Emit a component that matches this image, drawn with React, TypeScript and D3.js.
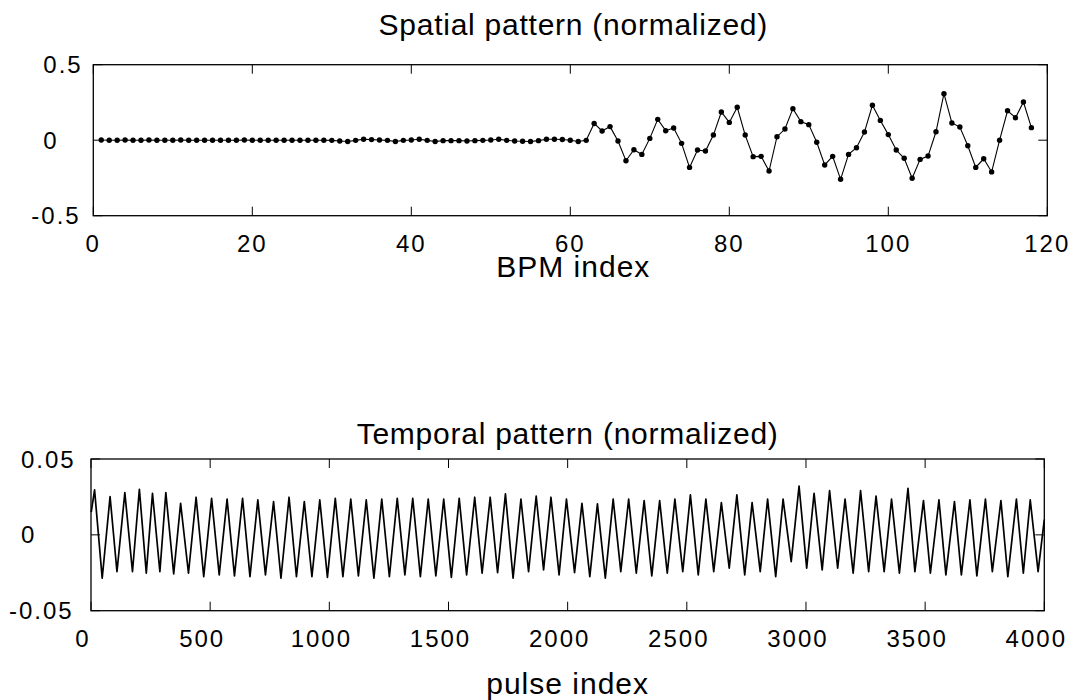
import React from "react";
import * as d3 from "d3";

// ---------- Data ----------
// Spatial pattern: BPM index 1..118
const spatialValues: number[] = [
  0.001, 0.0, 0.0, 0.001, 0.0, 0.0, 0.001, 0.0, 0.0, 0.0,
  0.001, 0.0, 0.0, 0.0, 0.0, 0.0, 0.0, 0.0, 0.001, 0.0,
  0.0, 0.0, 0.0, 0.0, 0.0, 0.0, 0.0, 0.0, 0.0, -0.001,
  -0.005, -0.009, -0.001, 0.006, 0.004, 0.001, -0.001, -0.009, -0.001, 0.001,
  0.006, -0.001, -0.009, -0.003, -0.003, -0.003, -0.005, -0.003, -0.001, 0.001,
  0.006, -0.001, -0.005, -0.007, -0.009, -0.003, 0.006, 0.006, 0.005, 0.0,
  -0.009, -0.001,
  0.111, 0.061, 0.09, -0.005, -0.136, -0.063, -0.094, 0.012, 0.138, 0.063,
  0.081, -0.021, -0.18, -0.065, -0.072, 0.034, 0.187, 0.118, 0.218, 0.034,
  -0.109, -0.107, -0.204, 0.023, 0.074, 0.209, 0.123, 0.103, -0.014, -0.164,
  -0.107, -0.259, -0.094, -0.05, 0.054, 0.231, 0.131, 0.037, -0.065, -0.12,
  -0.252, -0.127, -0.105, 0.056, 0.308, 0.114, 0.087, -0.037, -0.18, -0.123,
  -0.21, 0.0, 0.195, 0.149, 0.253, 0.083,
];

// Temporal pattern: extrema (sample index, value)
const temporalStart: [number, number] = [1, 0.015];
const temporalEnd: [number, number] = [4000, 0.01];
const peakSamples: number[] = [
  15, 80, 142, 203, 258, 314, 376, 441, 506, 571,
  636, 700, 766, 831, 895, 960, 1025, 1090, 1155, 1220,
  1285, 1350, 1415, 1480, 1545, 1610, 1675, 1739, 1804, 1868,
  1930, 1995, 2060, 2125, 2191, 2256, 2321, 2386, 2450, 2515,
  2580, 2645, 2710, 2774, 2839, 2904, 2971, 3034, 3099, 3164,
  3229, 3294, 3359, 3428, 3493, 3558, 3623, 3688, 3753, 3818,
  3883, 3941,
];
const peakValues: number[] = [
  0.0296, 0.0252, 0.0278, 0.03, 0.0274, 0.0278, 0.0208, 0.0248, 0.0241, 0.0235,
  0.0241, 0.023, 0.0219, 0.0248, 0.0219, 0.023, 0.0241, 0.0235, 0.023, 0.0235,
  0.0241, 0.0241, 0.0235, 0.0235, 0.0241, 0.0248, 0.0248, 0.027, 0.0235, 0.0256,
  0.0248, 0.0235, 0.0208, 0.0204, 0.0235, 0.0235, 0.0226, 0.0226, 0.0235, 0.0263,
  0.0235, 0.0212, 0.0263, 0.0212, 0.0235, 0.0235, 0.0322, 0.0274, 0.0291, 0.0235,
  0.0291, 0.0256, 0.0235, 0.0307, 0.0226, 0.023, 0.0219, 0.023, 0.0235, 0.0226,
  0.0235, 0.023,
];
const troughSamples: number[] = [
  47, 109, 174, 232, 289, 347, 409, 473, 538, 602,
  667, 732, 797, 862, 927, 992, 1057, 1122, 1187, 1252,
  1317, 1382, 1447, 1512, 1576, 1641, 1706, 1771, 1836, 1899,
  1964, 2029, 2093, 2158, 2223, 2288, 2353, 2418, 2483, 2548,
  2613, 2678, 2743, 2808, 2873, 2938, 3003, 3068, 3133, 3198,
  3263, 3328, 3392, 3457, 3522, 3587, 3652, 3717, 3782, 3847,
  3912, 3974,
];
const troughValues: number[] = [
  -0.0286, -0.0243, -0.0243, -0.0253, -0.0243, -0.0257, -0.0253, -0.0276, -0.0264, -0.0271,
  -0.0276, -0.0264, -0.0286, -0.0276, -0.0276, -0.028, -0.0276, -0.0271, -0.0286, -0.0276,
  -0.0264, -0.0276, -0.0271, -0.028, -0.0264, -0.0253, -0.0249, -0.0286, -0.0243, -0.0231,
  -0.0264, -0.0249, -0.0276, -0.0286, -0.0243, -0.0253, -0.0271, -0.0253, -0.0243, -0.0264,
  -0.0243, -0.022, -0.0264, -0.0243, -0.0276, -0.0177, -0.022, -0.0231, -0.022, -0.0253,
  -0.0243, -0.0243, -0.0253, -0.0243, -0.0253, -0.0264, -0.0264, -0.0271, -0.0243, -0.0276,
  -0.0253, -0.0243,
];

const spatialXTicks = [0, 20, 40, 60, 80, 100, 120];
const spatialYTicks = [0.5, 0, -0.5];
const spatialYTickLabels = ["0.5", "0", "-0.5"];
const temporalXTicks = [0, 500, 1000, 1500, 2000, 2500, 3000, 3500, 4000];
const temporalYTicks = [0.05, 0, -0.05];
const temporalYTickLabels = ["0.05", "0", "-0.05"];

const FONT = "'Liberation Sans', Arial, Helvetica, sans-serif";

type PanelProps = {
  left: number; right: number; top: number; bottom: number;
  xDomain: [number, number]; yDomain: [number, number];
  xTicks: number[]; yTicks: number[]; yLabels: string[];
  title: string; xLabel: string;
  titleY: number; xLabelY: number; textDx: number;
  yLabelOffset: number; xLabelDx: number;
  children: (x: d3.ScaleLinear<number, number>, y: d3.ScaleLinear<number, number>) => React.ReactNode;
};

function Panel(p: PanelProps) {
  const x = d3.scaleLinear().domain(p.xDomain).range([p.left, p.right]);
  const y = d3.scaleLinear().domain(p.yDomain).range([p.bottom, p.top]);
  const tickLen = 9;
  const cx = (p.left + p.right) / 2 + p.textDx;
  return (
    <g>
      <text x={cx} y={p.titleY} textAnchor="middle" fontSize={30} letterSpacing={0.75} fontFamily={FONT}>{p.title}</text>
      {p.children(x, y)}
      <rect x={p.left} y={p.top} width={p.right - p.left} height={p.bottom - p.top} fill="none" stroke="#000" strokeWidth={1.3} />
      {p.xTicks.map((t) => (
        <g key={"xt" + t}>
          <line x1={x(t)} x2={x(t)} y1={p.bottom} y2={p.bottom - tickLen} stroke="#000" strokeWidth={1} />
          <line x1={x(t)} x2={x(t)} y1={p.top} y2={p.top + tickLen} stroke="#000" strokeWidth={1} />
          <text x={x(t)} dx={p.xLabelDx} y={p.bottom + 36} textAnchor="middle" fontSize={24} letterSpacing={2} fontFamily={FONT}>{String(t)}</text>
        </g>
      ))}
      {p.yTicks.map((t, i) => (
        <g key={"yt" + t}>
          <line x1={p.left} x2={p.left + tickLen} y1={y(t)} y2={y(t)} stroke="#000" strokeWidth={1} />
          <line x1={p.right} x2={p.right - tickLen} y1={y(t)} y2={y(t)} stroke="#000" strokeWidth={1} />
          <text x={p.left - p.yLabelOffset - (p.yLabels[i].startsWith("-") ? 12 : 0)} y={y(t) + 8.5} textAnchor="start" fontSize={24} letterSpacing={2} fontFamily={FONT}>{p.yLabels[i]}</text>
        </g>
      ))}
      <text x={cx} y={p.xLabelY} textAnchor="middle" fontSize={30} letterSpacing={1} fontFamily={FONT}>{p.xLabel}</text>
    </g>
  );
}

export default function App() {
  const spatialPts = spatialValues.map((v, i) => [i + 1, v] as [number, number]);
  const peaks = peakSamples.map((s, i) => [s, peakValues[i]] as [number, number]);
  const troughs = troughSamples.map((s, i) => [s, troughValues[i]] as [number, number]);
  const temporalPts = [temporalStart, ...peaks, ...troughs, temporalEnd].sort((a, b) => a[0] - b[0]);

  return (
    <svg width={1074} height={700} style={{ position: "absolute", left: 0, top: 0, background: "#fff" }}>
      <rect width={1074} height={700} fill="#fff" />
      <Panel
        left={93.3} right={1047.3} top={64.7} bottom={215.7}
        xDomain={[0, 120]} yDomain={[-0.5, 0.5]}
        xTicks={spatialXTicks} yTicks={spatialYTicks} yLabels={spatialYTickLabels}
        title="Spatial pattern (normalized)" xLabel="BPM index"
        titleY={35} xLabelY={277} textDx={3} yLabelOffset={50} xLabelDx={0}
      >
        {(x, y) => {
          const line = d3.line<[number, number]>().x((d) => x(d[0])).y((d) => y(d[1]));
          return (
            <g>
              <path d={line(spatialPts) || ""} fill="none" stroke="#000" strokeWidth={1.1} />
              {spatialPts.map((d) => (
                <circle key={d[0]} cx={x(d[0])} cy={y(d[1])} r={2.7} fill="#000" />
              ))}
            </g>
          );
        }}
      </Panel>
      <Panel
        left={91} right={1044.3} top={459} bottom={610.7}
        xDomain={[0, 4000]} yDomain={[-0.05, 0.05]}
        xTicks={temporalXTicks} yTicks={temporalYTicks} yLabels={temporalYTickLabels}
        title="Temporal pattern (normalized)" xLabel="pulse index"
        titleY={444} xLabelY={694} textDx={0} yLabelOffset={70} xLabelDx={-8}
      >
        {(x, y) => {
          const line = d3.line<[number, number]>().x((d) => x(d[0])).y((d) => y(d[1]));
          return <path d={line(temporalPts) || ""} fill="none" stroke="#000" strokeWidth={1.7} strokeLinejoin="round" />;
        }}
      </Panel>
    </svg>
  );
}
